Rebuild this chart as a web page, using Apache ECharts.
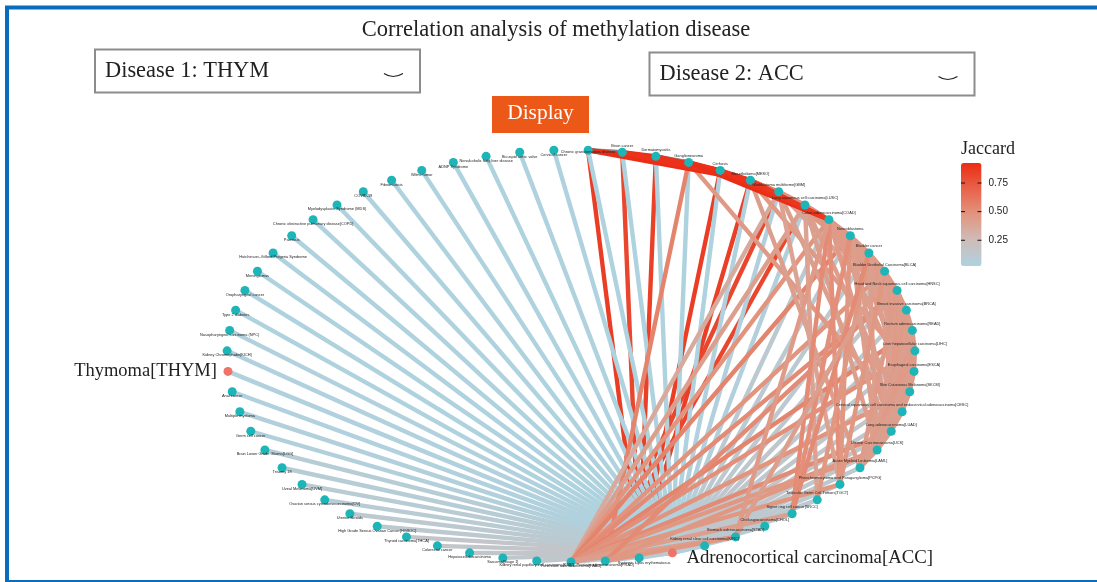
<!DOCTYPE html>
<html lang="en">
<head>
    <script src="https://cdn.jsdelivr.net/npm/echarts@6/dist/echarts.min.js"></script>
    <style>
        html, body { margin: 0; background: #fff; }
        #chart { width: 1097px; height: 582px; }
    </style>
</head>
<body>
<div id="chart"></div>
<script>
// diseases in ring order, clockwise from just right of the top
const nodeNames = [
    'Chronic granulomatous disease', 'Brain cancer', 'Dermatomyositis', 'Ganglioneuroma', 'Cirrhosis',
    'Mesothelioma[MESO]', 'Glioblastoma multiforme[GBM]', 'Lung squamous cell carcinoma[LUSC]',
    'Colon adenocarcinoma[COAD]', 'Neuroblastoma', 'Bladder cancer', 'Bladder Urothelial Carcinoma[BLCA]',
    'Head and Neck squamous cell carcinoma[HNSC]', 'Breast invasive carcinoma[BRCA]', 'Rectum adenocarcinoma[READ]',
    'Liver hepatocellular carcinoma[LIHC]', 'Esophageal carcinoma[ESCA]', 'Skin Cutaneous Melanoma[SKCM]',
    'Cervical squamous cell carcinoma and endocervical adenocarcinoma[CESC]', 'Lung adenocarcinoma[LUAD]',
    'Uterine Carcinosarcoma[UCS]', 'Acute Myeloid Leukemia[LAML]', 'Pheochromocytoma and Paraganglioma[PCPG]',
    'Testicular Germ Cell Tumors[TGCT]', 'Signet ring cell cancer[SRCC]', 'Cholangiocarcinoma[CHOL]',
    'Stomach adenocarcinoma[STAD]', 'Kidney renal clear cell carcinoma[KIRC]', 'Adrenocortical carcinoma[ACC]',
    'Systemic lupus erythematosus', 'Prostate adenocarcinoma[PRAD]', 'Pancreatic adenocarcinoma[PAAD]',
    'Kidney renal papillary cell carcinoma[KIRP]', 'Sarcoma[Stage 1]', 'Hepatocellularcarcinoma', 'Colorectal cancer',
    'Thyroid carcinoma[THCA]', 'High Grade Serous Ovarian Cancer[HGSOC]', 'Uterine fibroids',
    'Ovarian serous cystadenocarcinoma[OV]', 'Uveal Melanoma[UVM]', 'Trisomy 18', 'Brain Lower Grade Glioma[LGG]',
    'Germ cell cancer', 'Multiple myeloma', 'Anal cancer', 'Thymoma[THYM]', 'Kidney Chromophobe[KICH]',
    'Nasopharyngeal carcinoma (NPC)', 'Type 2 diabetes', 'Oropharyngeal cancer', 'Meningiomas',
    'Hutchinson–Gilford Progeria Syndrome', 'Psoriasis', 'Chronic obstructive pulmonary disease[COPD]',
    'Myelodysplastic Syndrome (MDS)', 'COVID-19', 'Fibromatosis', 'Wilms tumor', 'ADNP Syndrome',
    'Nonalcoholic fatty liver disease', 'Bicuspid aortic valve', 'Cervical cancer'
];
const thymIndex = 46;
const accIndex = 28;

// jaccard of each disease with ACC, same order as nodeNames
const accJaccard = [
    .03, .03, .03, .03, .03, .04, .05, .05, .12, .12, .12, .12, .14, .14, .14, .14, .14, .16, .16, .14,
    .14, .12, .12, .12, .12, .1, .1, .06, null, .05, .05, .08, .14, .14, .16, .16, .16, .12, .12, .1,
    .1, .08, .08, .05, .05, .04, .04, .04, .04, .03, .03, .03, .03, .03, .03, .03, .03, .03, .03, .03,
    .03, .03, .03
];

// [source, target, jaccard]
const redSpokes = [
    [0, 29, .86], [1, 29, .82], [2, 29, .84], [4, 29, .86], [5, 29, .85], [6, 30, .82], [7, 30, .82]
];
const salmonSpokes = [
    [3, 30, .55], [6, 31, .36], [7, 31, .42], [8, 31, .48], [9, 31, .55], [11, 31, .48], [12, 31, .52],
    [14, 31, .55], [15, 31, .5], [17, 31, .48], [19, 31, .52], [20, 31, .46],
    [22, 31, .46], [24, 31, .42], [26, 31, .42],
    [12, 30, .52], [20, 30, .46], [26, 30, .46], [3, 18, .45]
];
const clusterLinks = [
    [5, 6, .6], [5, 7, .55], [5, 9, .5], [5, 16, .45], [5, 21, .42],
    [6, 7, .5], [6, 8, .5], [6, 9, .45], [6, 11, .45], [6, 14, .4], [6, 19, .42], [6, 22, .4],
    [7, 8, .55], [7, 9, .45], [7, 10, .44], [7, 13, .46], [7, 18, .42], [7, 20, .42], [7, 23, .4],
    [8, 9, .46], [8, 10, .46], [8, 11, .44], [8, 12, .46], [8, 13, .44], [8, 15, .44], [8, 17, .44],
    [8, 19, .44], [8, 22, .5], [8, 24, .52], [8, 26, .44],
    [9, 10, .45], [9, 11, .44], [9, 12, .44], [9, 13, .42], [9, 14, .44], [9, 15, .44], [9, 16, .42], [9, 17, .44], [9, 19, .42], [9, 20, .42], [9, 22, .46], [9, 24, .5],
    [10, 11, .44], [10, 12, .44], [10, 13, .42], [10, 14, .44], [10, 15, .42], [10, 16, .44], [10, 18, .42], [10, 20, .42], [10, 23, .46], [10, 24, .52],
    [11, 12, .44], [11, 13, .44], [11, 14, .42], [11, 15, .44], [11, 16, .44], [11, 17, .42], [11, 18, .44], [11, 19, .42], [11, 22, .46], [11, 26, .42],
    [12, 13, .44], [12, 14, .44], [12, 15, .42], [12, 16, .42], [12, 17, .44], [12, 18, .42], [12, 19, .44], [12, 20, .42], [12, 21, .44],
    [13, 14, .44], [13, 15, .44], [13, 16, .42], [13, 17, .42], [13, 18, .44], [13, 19, .42], [13, 20, .44],
    [14, 15, .44], [14, 16, .44], [14, 17, .42], [14, 18, .44], [14, 19, .42], [14, 20, .44], [14, 21, .42],
    [15, 16, .44], [15, 17, .44], [15, 18, .42], [15, 19, .44], [15, 20, .42], [15, 21, .44],
    [16, 17, .44], [16, 18, .44], [16, 19, .42], [16, 20, .44], [16, 21, .42],
    [17, 18, .44], [17, 19, .44], [17, 20, .42], [17, 21, .42],
    [18, 19, .44], [18, 20, .44], [18, 21, .42], [19, 20, .44], [19, 21, .42], [20, 21, .42]
];
const topChain = [
    [0, 1, .93], [0, 2, .93], [0, 3, .92], [0, 4, .92], [0, 5, .92], [1, 2, .92], [1, 3, .9], [1, 4, .92], [1, 5, .9],
    [2, 3, .93], [2, 4, .9], [2, 5, .9], [3, 4, .92], [3, 5, .9], [4, 5, .9], [3, 8, .92], [4, 8, .9], [5, 8, .88]
];

// colour bar
const barMin = 0.025;
const barMax = 0.925;
const barTicks = [0.25, 0.5, 0.75];
const barColors = ['#aed2e0', '#cfbcb9', '#e2957f', '#e8624a', '#ec2c14'];

const SERIF = '"Liberation Serif", serif';
const SANS = '"Liberation Sans", Arial, sans-serif';

function linkStyle(l) {
    return {
        source: l[0],
        target: l[1],
        lineStyle: {
            color: echarts.color.lerp((l[2] - barMin) / (barMax - barMin), barColors),
            width: 4.4,
            opacity: 1
        }
    };
}

let accLinks = [];
accJaccard.forEach((j, i) => {
    if (j !== null) accLinks.push([i, accIndex, j]);
});
const links = [...redSpokes, ...accLinks, ...salmonSpokes, ...clusterLinks, ...topChain].map(linkStyle);

// ring layout as in the original plot: equal steps by index, the hidden axes stretch it to an ellipse
const nodes = nodeNames.map((name, i) => {
    const angle = 2 * Math.PI * (i + 0.5) / nodeNames.length;
    let label = {
        show: true,
        position: 'inside',
        fontFamily: SANS,
        fontSize: 3.9,
        color: '#222',
        offset: [0, i === 0 ? 1.7 : (i <= accIndex ? -6.6 : 4.3)]
    };
    if (i === 29) label.offset = [5, 5];
    if (i === thymIndex) label = { show: true, position: 'left', distance: 6.5, fontFamily: SERIF, fontSize: 18.5, color: '#222' };
    if (i === accIndex) label = { show: true, position: 'right', distance: 9.5, offset: [0, 5], fontFamily: SERIF, fontSize: 18.8, color: '#222' };
    const main = i === thymIndex || i === accIndex;
    return {
        name: name,
        value: [Math.sin(angle), Math.cos(angle)],
        itemStyle: { color: main ? '#f0736a' : '#1eb5b8' },
        label: label
    };
});

function dropdown(x, y, text) {
    return [
        { type: 'rect', shape: { x: x, y: y, width: 325, height: 43 }, style: { fill: '#fff', stroke: '#8c8c8c', lineWidth: 2 } },
        { type: 'text', x: x + 10, y: y + 22, style: { text: text, font: '22.4px ' + SERIF, fill: '#222', textVerticalAlign: 'middle' } },
        { type: 'bezierCurve', shape: { x1: x + 289, y1: y + 24, x2: x + 308, y2: y + 24, cpx1: x + 298, cpy1: y + 30 }, style: { stroke: '#222', lineWidth: 1.2, fill: 'none' } }
    ];
}

// short ticks on both sides of the colour bar
function renderBarTick(params, api) {
    const left = api.coord([0, api.value(0)]);
    const right = api.coord([1, api.value(0)]);
    const style = { stroke: '#111', lineWidth: 1 };
    return {
        type: 'group',
        children: [
            { type: 'line', shape: { x1: left[0], y1: left[1], x2: left[0] + 4, y2: left[1] }, style: style },
            { type: 'line', shape: { x1: right[0] - 4, y1: right[1], x2: right[0], y2: right[1] }, style: style }
        ]
    };
}

const chart = echarts.init(document.querySelector('#chart'));
chart.setOption({
    animation: false,
    backgroundColor: '#fff',
    grid: [
        { left: 227, top: 150, width: 688, height: 412 },
        { left: 961, top: 163, width: 20.5, height: 103 }
    ],
    xAxis: [
        { type: 'value', min: -1, max: 1, show: false },
        { type: 'value', gridIndex: 1, min: 0, max: 1, show: false }
    ],
    yAxis: [
        { type: 'value', min: -1, max: 1, show: false },
        {
            type: 'value', gridIndex: 1, min: barMin, max: barMax, position: 'right',
            axisLine: { show: false }, splitLine: { show: false }, axisTick: { show: false },
            axisLabel: { show: true, customValues: barTicks, margin: 7, formatter: v => v.toFixed(2), fontFamily: SANS, fontSize: 10, color: '#222' }
        }
    ],
    visualMap: {
        type: 'continuous', min: barMin, max: barMax, seriesIndex: [], calculable: false,
        left: 946, top: 148, itemWidth: 20.5, itemHeight: 103, text: null, showLabel: false, z: 1,
        inRange: { color: barColors }
    },
    series: [{
        type: 'graph',
        coordinateSystem: 'cartesian2d',
        xAxisIndex: 0,
        yAxisIndex: 0,
        layout: 'none',
        silent: true,
        symbol: 'circle',
        symbolSize: 9,
        data: nodes,
        links: links
    }, {
        type: 'custom',
        xAxisIndex: 1,
        yAxisIndex: 1,
        z: 10,
        silent: true,
        data: barTicks.map(v => [v]),
        encode: { y: 0 },
        renderItem: renderBarTick
    }],
    graphic: [
        { type: 'rect', shape: { x: 7, y: 7.5, width: 1200, height: 574.5 }, style: { fill: 'none', stroke: '#0a6cbd', lineWidth: 4 } },
        { type: 'text', x: 556, y: 30.5, style: { text: 'Correlation analysis of methylation disease', font: '22.5px ' + SERIF, fill: '#222', textAlign: 'center', textVerticalAlign: 'middle' } },
        ...dropdown(95, 49.5, 'Disease 1: THYM'),
        ...dropdown(649.5, 52.5, 'Disease 2: ACC'),
        { type: 'rect', shape: { x: 492, y: 96, width: 97, height: 37 }, style: { fill: '#ec5817' } },
        { type: 'text', x: 540.5, y: 113.5, style: { text: 'Display', font: '21.4px ' + SERIF, fill: '#fff', textAlign: 'center', textVerticalAlign: 'middle' } },
        { type: 'text', x: 961, y: 149, style: { text: 'Jaccard', font: '18px ' + SERIF, fill: '#222', textVerticalAlign: 'middle' } }
    ]
});
</script>
</body>
</html>
